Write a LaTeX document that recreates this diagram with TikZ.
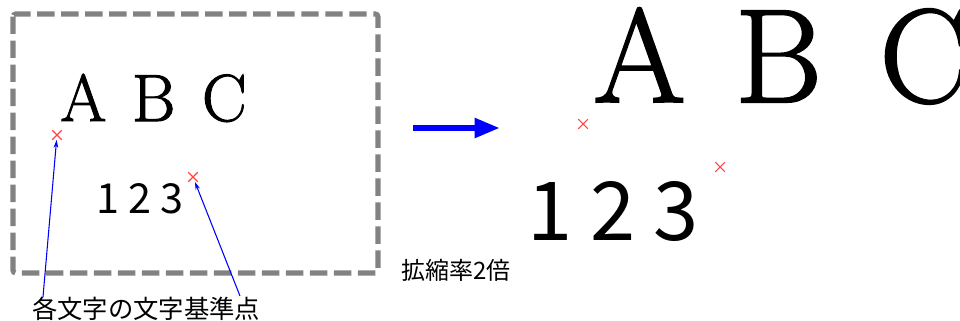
\documentclass[tikz,border=0pt]{standalone}
\usepackage{fontspec}
\newfontfamily\jpfont{Noto Sans CJK JP}
\newfontfamily\abcfont{Latin Modern Roman}[FakeBold=1.5]
\usepackage{xcolor}
\usepackage{tikz}
\usetikzlibrary{shapes.misc,arrows.meta,positioning}

\definecolor{refred}{RGB}{255,70,70}
\definecolor{framegray}{RGB}{130,130,130}

\begin{document}
\begin{tikzpicture}[
  x=0.75pt,y=-0.75pt,
  frame/.style={draw=framegray,line width=3.8pt,dash pattern=on 13pt off 5pt,rounded corners=2pt},
  serif/.style={anchor=base west,inner sep=0pt},
  digits/.style={anchor=base west,inner sep=0pt},
  refpt/.style={cross out,draw=refred,line width=0.8pt,inner sep=0pt,minimum size=6.5pt},
  note/.style={anchor=west,inner sep=0pt},
  lead/.style={->,>={Stealth[length=6pt,width=3.5pt]},draw=blue,line width=0.8pt},
  scalearr/.style={-{Triangle[length=19pt,width=14pt]},draw=blue,fill=blue,line width=4.5pt},
]
  \useasboundingbox (0,0) rectangle (960,321);

  % original
  \draw[frame] (13,14) rectangle (378,273);
  \node[serif,font=\abcfont\fontsize{50}{50}\selectfont]  (abc)   at (60,121) {A\hspace{19pt}B\hspace{20pt}C};
  \node[digits,font=\jpfont\fontsize{31}{31}\selectfont]  (nums)  at (96,213) {1 2 3};
  \node[refpt] (refA) at (57,135) {};
  \node[refpt] (ref3) at (193,177) {};

  % scaled
  \coordinate (arrS) at (413,128);
  \coordinate (arrE) at (500,128);
  \draw[scalearr] (arrS) -- (arrE);
  \node[serif,font=\abcfont\fontsize{100}{100}\selectfont] (bigabc)  at (593,102) {A\hspace{37pt}B\hspace{43pt}C};
  \node[digits,font=\jpfont\fontsize{61}{61}\selectfont]  (bignums) at (527,240) {1 2 3};
  \node[refpt] (bigrefA) at (583,124) {};
  \node[refpt] (bigref3) at (720,167) {};

  % labels
  \node[note,font=\jpfont\fontsize{18}{18}\selectfont] (ratio)   at (401,270) {拡縮率2倍};
  \node[note,font=\jpfont\fontsize{19}{19}\selectfont] (refnote) at (32,309)  {各文字の文字基準点};
  \coordinate (leadA) at (43,297);
  \coordinate (lead3) at (240,296);
  \draw[lead] (leadA) -- (refA);
  \draw[lead] (lead3) -- (ref3);
\end{tikzpicture}
\end{document}
